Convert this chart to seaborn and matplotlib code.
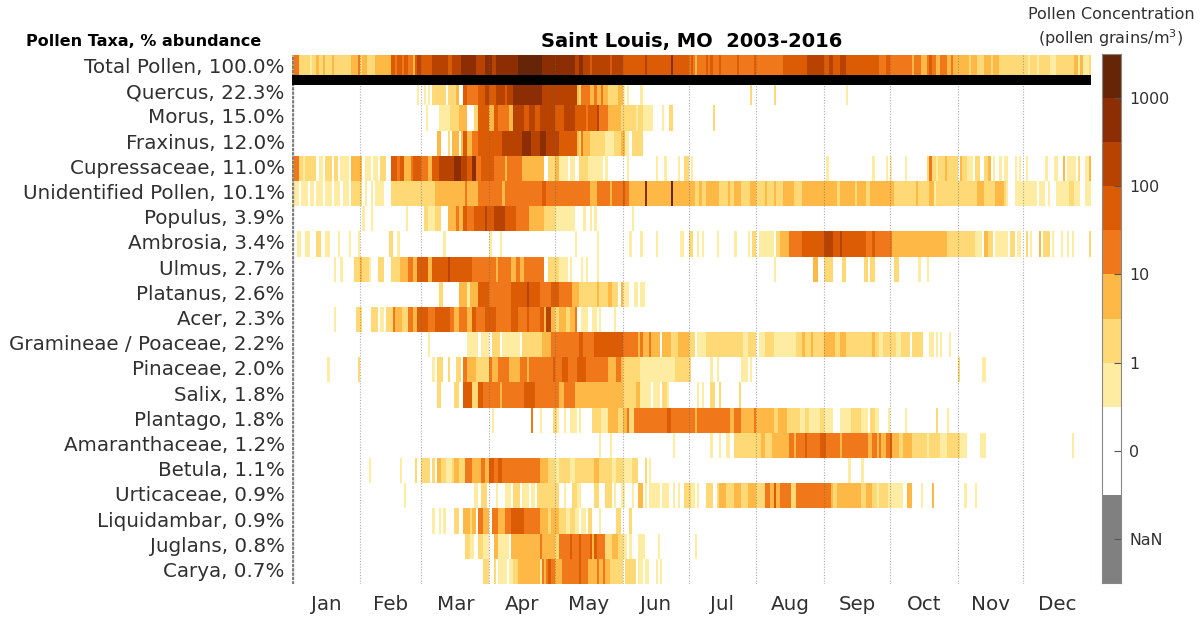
"""Pollen calendar heatmap, Saint Louis MO."""

import numpy as np
import pandas as pd
import matplotlib
matplotlib.use('Agg')
import matplotlib.pyplot as plt
from matplotlib.colors import ListedColormap
import seaborn as sns

labels = ['Total Pollen, 100.0%', 'Quercus, 22.3%', 'Morus, 15.0%', 'Fraxinus, 12.0%',
          'Cupressaceae, 11.0%', 'Unidentified Pollen, 10.1%', 'Populus, 3.9%',
          'Ambrosia, 3.4%', 'Ulmus, 2.7%', 'Platanus, 2.6%', 'Acer, 2.3%',
          'Gramineae / Poaceae, 2.2%', 'Pinaceae, 2.0%', 'Salix, 1.8%', 'Plantago, 1.8%',
          'Amaranthaceae, 1.2%', 'Betula, 1.1%', 'Urticaceae, 0.9%', 'Liquidambar, 0.9%',
          'Juglans, 0.8%', 'Carya, 0.7%']
months = ['Jan', 'Feb', 'Mar', 'Apr', 'May', 'Jun', 'Jul', 'Aug', 'Sep', 'Oct', 'Nov', 'Dec']
month_days = [31, 28, 31, 30, 31, 30, 31, 31, 30, 31, 30, 31]

# colour bins, half a decade each: 0=white, then 1..8
bin_colors = ['#feeca2', '#fed976', '#feb845', '#f0781a', '#dc5c05', '#b84300', '#8c2d04', '#662506']
cbar_ticks = [-3, -1, 1, 3, 5, 7]
cbar_labels = ['NaN', '0', '1', '10', '100', '1000']

# each row: (first day of a run, bin), day of year from 0
total = [(0,3),(1,4),(3,2),(8,1),(9,2),(11,3),(12,2),(14,3),(15,2),(18,3),(19,2),(27,3),(30,4),(31,2),(32,3),(34,2),
         (38,3),(45,5),(47,4),(48,5),(50,4),(51,5),(53,4),(55,3),(56,5),(57,6),(59,5),(64,6),(68,6),(71,5),(73,6),
         (77,7),(84,6),(88,7),(91,6),(93,7),(103,8),(114,7),(123,7),(129,6),(131,7),(133,6),(136,5),(137,6),(145,5),
         (146,6),(151,5),(161,6),(162,5),(173,7),(174,5),(181,4),(182,5),(183,4),(184,3),(185,4),(189,5),(190,4),
         (191,5),(192,4),(195,5),(196,4),(203,5),(204,4),(211,5),(212,4),(224,5),(235,6),(243,5),(245,6),(247,5),
         (250,6),(253,5),(268,4),(271,5),(273,4),(283,3),(284,4),(287,3),(290,4),(291,5),(292,4),(294,3),(296,4),
         (299,3),(301,4),(302,3),(309,2),(310,3),(313,2),(316,3),(319,2),(320,3),(323,2),(336,1),(337,2),(340,1),
         (341,2),(346,1),(349,2),(357,3),(359,1),(360,3),(361,1),(364,2)]
quercus = [(57,1),(58,0),(60,1),(61,0),(62,1),(63,0),(64,2),(70,0),(71,2),(75,3),(76,0),(78,5),(80,4),(85,5),(88,6),
           (90,5),(93,6),(97,5),(98,6),(101,7),(114,6),(130,3),(131,2),(132,4),(136,3),(138,4),(139,3),(141,4),(142,3),
           (144,2),(149,3),(151,1),(152,0),(153,1),(154,0),(159,1),(160,0),(209,2),(210,0),(220,2),(221,0),(253,1),(254,0)]
morus = [(61,1),(62,0),(67,1),(72,2),(76,3),(80,0),(83,2),(85,5),(90,3),(92,5),(94,4),(99,3),(101,6),(106,5),(108,6),
         (111,5),(113,6),(120,5),(124,6),(129,5),(134,4),(135,5),(139,6),(140,4),(144,3),(150,2),(157,1),(158,2),(160,1),
         (165,0),(169,1),(170,0),(172,2),(174,0),(192,2),(193,0)]
fraxinus = [(66,3),(68,0),(71,2),(72,0),(73,3),(76,0),(77,3),(78,5),(80,3),(82,4),(85,5),(96,6),(105,7),(109,6),(113,7),
            (116,6),(122,5),(130,3),(131,2),(132,4),(133,3),(136,2),(143,1),(147,2),(150,3),(152,1),(154,0),(155,2),(160,0)]
cupressaceae = [(0,3),(1,4),(3,2),(5,1),(6,2),(8,0),(8,2),(11,0),(12,1),(14,0),(15,2),(18,0),(19,2),(21,0),(22,1),(26,0),
                (27,3),(32,0),(33,1),(36,0),(37,1),(39,0),(40,2),(43,0),(45,5),(48,4),(49,5),(51,3),(54,4),(55,5),(59,4),
                (62,3),(64,5),(67,6),(74,7),(77,6),(80,5),(82,7),(84,4),(86,5),(92,4),(97,3),(98,4),(105,3),(115,0),(117,2),
                (120,3),(122,1),(126,0),(127,1),(129,0),(131,2),(135,1),(142,0),(143,1),(144,0),(153,1),(154,0),(166,1),
                (167,0),(170,1),(171,0),(176,1),(177,0),(179,2),(181,0),(182,1),(183,0),(244,1),(245,0),(265,1),(266,0),
                (271,1),(272,0),(273,1),(274,0),(280,1),(281,0),(290,2),(291,4),(292,2),(294,1),(295,2),(298,3),(299,2),
                (304,0),(305,3),(306,2),(308,1),(311,0),(312,2),(314,0),(316,2),(318,3),(319,0),(320,1),(321,0),(323,1),
                (324,0),(325,1),(327,0),(330,1),(331,0),(332,1),(333,0),(335,1),(336,0),(344,1),(345,0),(348,1),(350,0),
                (352,3),(353,0),(354,1),(358,0),(359,2),(360,0),(362,1),(364,3)]
unidentified = [(0,1),(3,0),(4,1),(7,0),(8,1),(10,0),(11,1),(14,0),(15,1),(18,0),(19,1),(22,0),(23,1),(26,0),(27,2),(32,0),
                (33,1),(34,0),(36,1),(37,0),(38,1),(42,0),(45,2),(65,3),(79,4),(80,3),(85,4),(96,3),(97,4),(114,5),(116,4),
                (136,3),(139,4),(145,3),(146,4),(151,5),(152,4),(154,3),(161,7),(162,3),(173,8),(174,3),(184,2),(186,3),
                (187,2),(189,3),(195,2),(199,3),(200,2),(202,3),(205,2),(209,3),(212,2),(216,3),(217,2),(220,3),(221,2),
                (224,3),(229,2),(233,3),(249,2),(250,3),(257,2),(258,3),(262,2),(264,3),(268,3),(275,2),(285,3),(286,2),
                (291,3),(293,1),(294,2),(313,3),(316,2),(321,3),(325,2),(326,1),(327,0),(330,1),(340,0),(341,1),(344,0),
                (345,1),(346,0),(349,1),(355,2),(357,1),(360,0),(362,1)]
populus = [(32,1),(33,0),(36,1),(37,0),(52,1),(53,0),(60,2),(62,1),(65,2),(68,0),(71,3),(75,4),(76,3),(78,5),(80,4),(83,5),
           (88,6),(89,5),(92,6),(97,5),(102,4),(108,3),(115,2),(120,1),(129,0),(133,1),(134,0),(136,1),(137,0),(138,1),
           (139,0),(155,1),(156,0)]
ambrosia = [(2,1),(4,0),(6,1),(8,0),(11,2),(13,0),(15,1),(17,0),(21,1),(22,0),(26,1),(27,0),(30,1),(31,0),(44,2),(46,0),
            (48,1),(49,0),(69,1),(70,0),(90,1),(91,0),(95,1),(96,0),(129,1),(130,0),(139,1),(140,0),(154,1),(155,0),(159,1),
            (160,0),(166,1),(167,0),(177,1),(179,0),(181,2),(183,0),(185,1),(186,0),(187,1),(188,0),(194,1),(195,0),(202,1),
            (203,0),(208,1),(209,0),(210,2),(212,0),(213,1),(220,0),(221,2),(223,3),(227,4),(233,5),(243,6),(247,5),(250,6),
            (251,5),(262,4),(265,5),(266,4),(274,3),(299,2),(312,1),(315,0),(316,3),(318,2),(320,0),(321,1),(327,0),(328,2),
            (330,0),(331,1),(333,0),(335,2),(336,0),(337,1),(338,0),(341,3),(342,0),(343,2),(346,0),(347,1),(348,0),(351,1),
            (352,0),(354,1),(355,0),(356,1),(357,0),(364,2)]
ulmus = [(19,1),(20,0),(22,1),(23,0),(28,2),(31,3),(32,2),(35,1),(36,0),(39,2),(42,0),(45,2),(49,3),(53,4),(55,3),(57,5),
         (62,3),(64,5),(71,6),(72,5),(82,4),(93,3),(94,4),(100,3),(102,4),(104,3),(106,4),(115,0),(117,2),(122,1),(125,1),
         (126,0),(127,1),(128,0),(132,1),(133,0),(134,1),(135,0),(139,1),(140,0),(220,1),(221,0),(238,3),(240,0),(243,2),
         (247,0),(251,2),(253,0),(261,2),(263,0),(264,2),(266,0),(275,2),(277,0),(286,1),(287,0),(290,1),(291,0)]
platanus = [(67,2),(69,0),(76,3),(80,1),(81,3),(85,5),(90,4),(100,5),(107,6),(108,5),(113,4),(118,5),(122,4),(128,3),
            (131,2),(139,3),(140,2),(144,3),(146,0),(146,2),(149,0),(150,3),(151,1),(154,0),(156,1),(158,0),(159,1),(161,0)]
acer = [(19,1),(20,0),(29,2),(32,0),(36,2),(39,0),(40,1),(42,0),(43,2),(46,4),(47,3),(50,2),(53,4),(55,3),(57,5),(62,4),
        (65,5),(72,4),(74,3),(76,4),(80,3),(82,5),(84,4),(88,5),(93,4),(100,5),(103,4),(107,5),(108,4),(113,5),(115,3),
        (116,6),(118,3),(120,2),(122,3),(125,2),(127,3),(129,4),(130,0),(132,1),(135,0),(137,1),(139,0),(140,1),(141,0),
        (147,1),(148,0)]
gramineae = [(62,1),(63,0),(80,1),(85,0),(86,1),(90,0),(91,2),(95,0),(96,1),(104,0),(105,2),(114,3),(118,4),(131,5),(133,4),
             (138,5),(151,4),(158,3),(159,4),(160,3),(163,4),(164,3),(168,0),(169,3),(173,2),(176,3),(181,2),(184,0),
             (185,1),(189,2),(194,2),(202,0),(202,2),(206,1),(208,2),(212,0),(213,1),(216,2),(220,1),(226,1),(230,2),(233,3),
             (234,2),(237,3),(238,2),(243,3),(246,3),(248,2),(250,3),(253,2),(265,3),(266,2),(268,1),(270,2),(276,1),(278,2),
             (282,0),(283,2),(288,0),(291,1),(293,0),(294,1),(295,0),(296,1),(297,0),(300,1),(301,0)]
pinaceae = [(16,1),(17,0),(30,2),(31,0),(64,1),(65,0),(66,2),(69,0),(71,2),(72,0),(75,2),(77,0),(78,4),(80,3),(84,2),(90,1),
            (90,4),(91,3),(94,4),(99,3),(104,4),(107,3),(108,4),(111,4),(119,5),(120,4),(123,5),(126,4),(130,5),(134,4),
            (144,3),(148,4),(150,3),(151,2),(155,2),(159,1),(175,2),(182,0),(191,1),(192,0),(194,1),(195,0),(205,1),(208,0),
            (209,1),(210,0),(304,2),(305,0),(315,1),(317,0)]
salix = [(66,2),(68,0),(74,2),(76,0),(78,5),(82,2),(85,5),(87,4),(95,3),(96,4),(106,5),(111,4),(122,3),(124,4),(129,3),
         (151,2),(157,3),(159,1),(164,0),(165,1),(168,0),(169,2),(171,1),(172,0),(185,1),(186,0),(187,1),(188,0),(191,2),
         (193,0),(195,2),(196,0),(204,2),(205,0)]
plantago = [(91,1),(92,0),(109,4),(110,0),(113,1),(114,0),(119,2),(121,1),(122,0),(124,1),(125,0),(127,1),(130,0),(131,1),
            (132,0),(137,2),(141,1),(144,3),(149,2),(151,3),(153,4),(154,2),(156,4),(171,5),(173,4),(184,3),(185,4),(200,3),
            (202,4),(205,3),(211,4),(212,3),(220,2),(222,3),(226,2),(232,1),(234,2),(236,1),(241,2),(243,1),(247,0),(250,1),
            (255,2),(260,1),(263,0),(264,2),(266,1),(268,0),(272,1),(273,0),(280,1),(281,0),(294,2),(295,0),(299,1),(300,0)]
amaranthaceae = [(140,1),(141,0),(145,1),(146,0),(174,1),(175,0),(191,1),(192,0),(195,1),(196,0),(198,1),(200,0),(202,2),
                 (214,3),(216,2),(219,3),(227,4),(229,3),(230,4),(234,5),(235,4),(241,5),(244,4),(250,3),(251,4),(263,3),(265,4),
                 (267,3),(268,4),(269,3),(271,4),(273,5),(274,3),(277,2),(279,3),(283,2),(290,1),(291,2),(296,1),(299,2),
                 (305,1),(308,0),(314,1),(317,0),(356,1),(357,0)]
betula = [(35,1),(36,0),(49,1),(50,0),(56,2),(57,0),(59,2),(63,0),(64,2),(65,0),(66,3),(68,2),(70,1),(73,2),(74,3),(76,2),
          (79,4),(82,3),(86,4),(88,3),(90,5),(92,4),(94,5),(96,4),(113,3),(117,2),(120,1),(122,2),(127,1),(129,2),(131,2),
          (138,3),(140,2),(146,1),(148,2),(151,1),(155,2),(158,0),(161,2),(162,0),(163,1),(164,0),(254,1),(255,0),(260,1),
          (261,0)]
urticaceae = [(51,1),(52,0),(83,1),(85,0),(86,2),(89,0),(93,1),(94,0),(97,1),(100,0),(101,2),(104,0),(105,1),(108,0),(109,1),
              (111,0),(112,2),(122,0),(124,1),(125,0),(128,2),(130,1),(132,0),(138,2),(140,0),(143,2),(146,0),(147,1),
              (148,0),(150,1),(152,0),(155,1),(156,0),(158,3),(160,0),(161,1),(162,0),(163,1),(168,0),(169,1),(172,0),(174,1),
              (175,0),(176,1),(177,0),(179,2),(182,1),(184,0),(185,1),(186,0),(189,2),(192,0),(194,2),(195,3),(198,2),(202,3),
              (205,2),(208,3),(212,2),(216,4),(218,3),(220,5),(221,3),(223,4),(228,2),(230,4),(246,3),(247,2),(249,3),(260,2),
              (262,3),(265,2),(267,1),(268,2),(272,1),(279,0),(281,3),(283,0),(287,1),(288,0),(292,3),(293,0),(307,1),(308,0),
              (312,1),(313,0)]
liquidambar = [(64,1),(65,0),(67,1),(68,0),(69,1),(70,0),(74,2),(76,0),(78,3),(81,2),(82,3),(84,0),(85,4),(87,3),(90,0),(91,4),
               (94,3),(97,4),(100,5),(106,4),(113,3),(117,2),(118,3),(122,2),(125,1),(127,2),(129,1),(131,0),(132,1),(134,0),
               (135,2),(137,0),(140,1),(141,0),(148,2),(150,0),(154,2),(155,0)]
juglans = [(79,2),(81,1),(83,0),(85,2),(87,1),(90,0),(92,3),(94,1),(99,0),(100,3),(113,4),(114,3),(120,2),(122,4),(127,5),
           (128,4),(131,5),(132,4),(136,5),(137,3),(138,5),(139,4),(143,2),(146,3),(149,2),(151,1),(153,0),(154,1),(155,0),
           (158,1),(161,0),(167,1),(168,0),(184,1),(185,0)]
carya = [(87,2),(90,0),(92,2),(93,0),(94,1),(96,1),(98,0),(99,1),(101,2),(103,3),(113,1),(114,0),(114,4),(115,3),(116,4),
         (117,5),(118,4),(120,3),(123,4),(131,5),(132,4),(135,3),(139,4),(140,3),(142,4),(143,3),(145,2),(151,0),(152,2),
         (157,0),(158,1),(160,0),(161,1),(163,0),(166,1),(167,0),(168,1),(169,0)]
rows = [total, quercus, morus, fraxinus, cupressaceae, unidentified, populus, ambrosia, ulmus, platanus, acer,
        gramineae, pinaceae, salix, plantago, amaranthaceae, betula, urticaceae, liquidambar, juglans, carya]


def expand_row(runs):
    """Turn (start day, bin) runs into a value per day on the colorbar scale."""
    row = np.full(365, -1.0)
    for i, (start, level) in enumerate(runs):
        end = runs[i + 1][0] if i + 1 < len(runs) else 365
        row[start:end] = level - 0.5 if level > 0 else -1.0
    return row


df = pd.DataFrame([expand_row(r) for r in rows], index=labels)

# gray and white take two slots each, so the scale runs -4..8
cmap = ListedColormap(['#808080', '#808080', '#ffffff', '#ffffff'] + bin_colors)

W, H = 1203, 618
fig = plt.figure(figsize=(W / 100, H / 100), dpi=100)
ax = fig.add_axes([292.3 / W, 1 - 584 / H, 799 / W, 529 / H])
cax = fig.add_axes([1101.5 / W, 1 - 583 / H, 19.5 / W, 529 / H])

sns.heatmap(df, ax=ax, cbar_ax=cax, cmap=cmap, vmin=-4, vmax=8, xticklabels=False, yticklabels=labels)

text_color = '#303030'
edges = np.cumsum(month_days)
mids = edges - np.array(month_days) / 2
ax.set_xticks(mids)
ax.set_xticklabels(months, fontsize=14.3, color=text_color, rotation=0)
ax.set_yticklabels(labels, fontsize=14.3, color=text_color, rotation=0)
ax.tick_params(axis='x', length=0, pad=8)
ax.tick_params(axis='y', length=0, pad=5.5)
ax.vlines(edges, 0, len(labels), color='#666666', lw=0.8, ls=(0, (1, 1.5)), alpha=0.55, zorder=3)
ax.axvline(0, color='#808080', lw=2.4, ls=(0, (1, 0.3)), zorder=3)
ax.axhline(1, color='black', lw=7.2, zorder=4)

ax.set_title('Saint Louis, MO  2003-2016', fontsize=14, fontweight='bold', pad=6, color='black')
fig.text(144 / W, 1 - 42 / H, 'Pollen Taxa, % abundance', ha='center', va='center',
         fontsize=11.5, fontweight='bold')
fig.text(1111 / W, 1 - 28 / H, 'Pollen Concentration\n(pollen grains/m$^3$)', ha='center', va='center',
         fontsize=11.5, color=text_color, linespacing=1.3)

cax.set_yticks(cbar_ticks)
cax.set_yticklabels(cbar_labels, fontsize=11.4, color=text_color)
cax.tick_params(axis='y', direction='in', length=5, width=0.8, color='#555555', pad=6, right=True, left=False)
for spine in cax.spines.values():
    spine.set_visible(True)
    spine.set_color('#888888')

fig.savefig('out.png', dpi=100)
